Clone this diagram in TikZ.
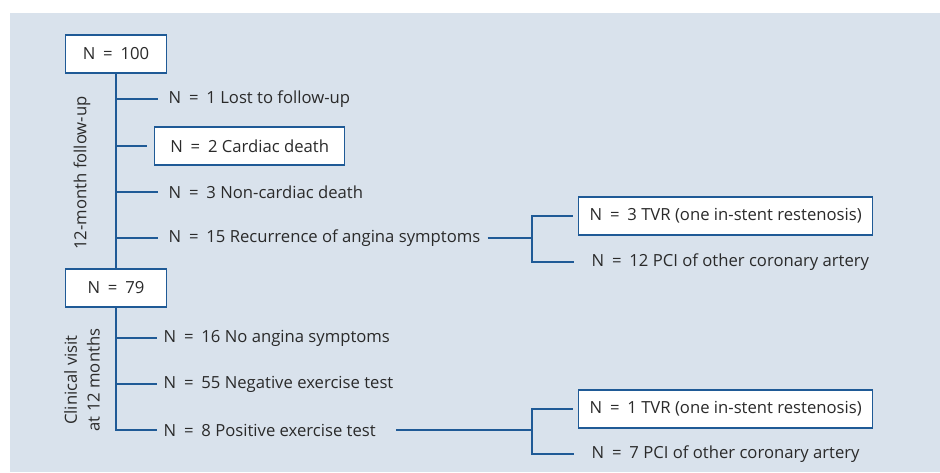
\documentclass[tikz,border=0pt]{standalone}
\usepackage{fontspec}
\setmainfont{Open Sans}
\usetikzlibrary{positioning}
\definecolor{panel}{HTML}{D9E2EC}
\definecolor{flowblue}{HTML}{1F5A96}
\definecolor{ink}{HTML}{2A2A2A}
\newcommand\Neq{N\kern2.6pt{} = \kern2.6pt}

\begin{document}
\begin{tikzpicture}[x=0.75pt,y=-0.75pt,line width=1.1pt,
  font=\fontsize{12.5}{15}\selectfont,text=ink]
  \tikzstyle{every node}=[inner sep=0pt]
  \tikzstyle{countbox}=[draw=flowblue,fill=white,minimum height=28.5pt]
  \tikzstyle{item}=[anchor=west]
  \tikzstyle{link}=[draw=flowblue]

  \useasboundingbox (0,0) rectangle (940,472);
  \fill[panel] (10,13) rectangle (940,472);

  % first stage
  \node[countbox,minimum width=75.75pt] (n100) at (116,54) {\Neq 100};
  \node[item] (lost)    at (168,99)  {\Neq 1 Lost to follow-up};
  \node[countbox,minimum width=142.5pt,anchor=west] (cdeath) at (154,146) {\Neq 2 Cardiac death};
  \node[item] (ncdeath) at (168,192) {\Neq 3 Non-cardiac death};
  \node[item] (angina)  at (168,238) {\Neq 15 Recurrence of angina symptoms};
  \node[countbox,minimum width=220.5pt,anchor=west] (tvra) at (578,216) {\Neq 3 TVR (one in-stent restenosis)};
  \node[item] (pcia)    at (591,262) {\Neq 12 PCI of other coronary artery};
  \node[rotate=90] (fu) at (82,173) {12-month follow-up};

  % second stage
  \node[countbox,minimum width=75.75pt] (n79) at (116,288) {\Neq 79};
  \node[item] (noang)   at (163,338) {\Neq 16 No angina symptoms};
  \node[item] (negex)   at (163,384) {\Neq 55 Negative exercise test};
  \node[item] (posex)   at (163,430) {\Neq 8 Positive exercise test};
  \node[countbox,minimum width=220.5pt,anchor=west] (tvrb) at (578,409) {\Neq 1 TVR (one in-stent restenosis)};
  \node[item] (pcib)    at (591,454) {\Neq 7 PCI of other coronary artery};
  \node[rotate=90,align=center,font=\fontsize{12.5}{17}\selectfont] (visit) at (82,380) {Clinical visit\\at 12 months};

  % trunks and branches
  \draw[link] (n100.south) -- (n79.north);
  \draw[link] (n79.south) |- ([xshift=-4.5pt]posex.west);
  \foreach \t/\g in {lost/7.5,ncdeath/7.5,angina/7.5,noang/4.5,negex/4.5}
    \draw[link] (n100.south |- \t.west) -- ([xshift=-\g pt]\t.west);
  \draw[link] (n100.south |- cdeath.west) -- ([xshift=-5pt]cdeath.west);

  % sub-branches
  \draw[link] ([xshift=5pt]angina.east) -- (532,238);
  \draw[link] ([xshift=-4pt]tvra.west) -| (532,262) -- ([xshift=-13pt]pcia.west);
  \draw[link] ([xshift=15pt]posex.east) -- (532,430);
  \draw[link] ([xshift=-4pt]tvrb.west) -| (532,454) -- ([xshift=-13pt]pcib.west);
\end{tikzpicture}
\end{document}
